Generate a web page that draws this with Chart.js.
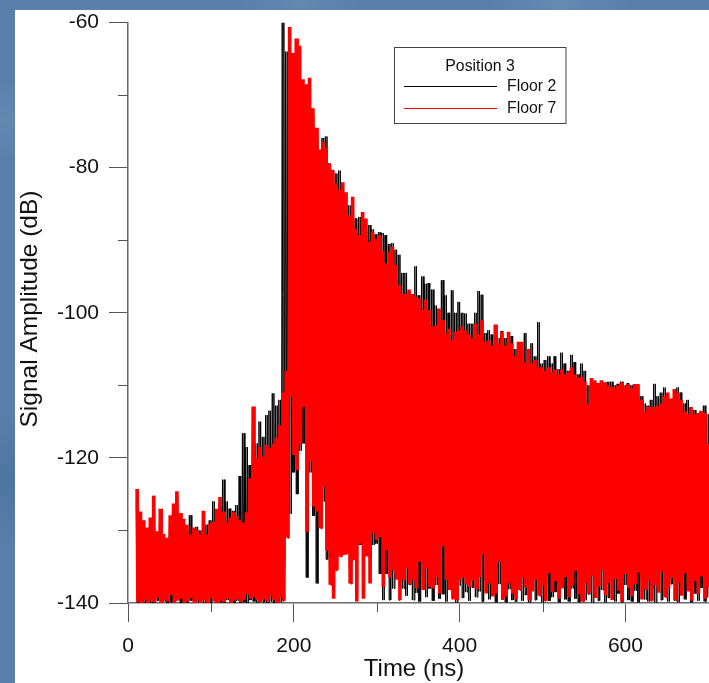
<!DOCTYPE html>
<html>
<head>
<meta charset="utf-8">
<style>
html,body{margin:0;padding:0;width:709px;height:683px;overflow:hidden;background:#5a7fa9;}
body{background-image:radial-gradient(circle at 6px 120px,#6488b0 0,transparent 40px),radial-gradient(circle at 300px 4px,#6488b0 0,transparent 60px),radial-gradient(circle at 8px 480px,#4f769f 0,transparent 70px),radial-gradient(circle at 560px 5px,#668ab2 0,transparent 70px);}
#panel{position:absolute;left:15px;top:10px;right:0;bottom:0;background:#fff;}
canvas{position:absolute;left:0;top:0;}
</style>
<script src="https://cdn.jsdelivr.net/npm/chart.js@4"></script>
</head>
<body>
<div id="panel"></div>
<canvas id="c" width="709" height="683"></canvas>
<script>
const legendTitle = "Position 3";
const seriesNames = ["Floor 2", "Floor 7"];
const xAxisTitle = "Time (ns)";
const yAxisTitle = "Signal Amplitude (dB)";
const xLabelTicks = [0, 200, 400, 600];
const yLabelTicks = [-60, -80, -100, -120, -140];
const xMinorTicks = [100, 300, 500];
const yMinorTicks = [-70, -90, -110, -130];

// Upper and lower excursions of each trace, one pair per 4 ns from 10 ns.
const floor2Upper = [
-126,-129,-130,-131,-130,-129.5,-130.5,-130,-131,-131.5,
-130,-129,-128,-129,-130,-130,-127.9,-130,-129.5,-130,
-129.5,-129.2,-128.6,-126,-128,-126.5,-123,-126,-127,-127.3,
-126.5,-122.5,-116.6,-118.5,-121,-119,-118,-115,-117.1,-114.1,
-113.5,-111.1,-112.8,-112,-60,-64,-65,-64.7,-66.5,-67,
-69,-72,-71.5,-73,-76,-78,-75.9,-75.7,-79.4,-80.3,
-80.8,-80.4,-82.8,-85.8,-85.2,-85.3,-87,-86.8,-88.2,-88.8,
-87.9,-88.5,-89.2,-88.9,-89,-89.3,-90.5,-90.4,-91.3,-92,
-94.5,-94.5,-97.5,-98,-93.6,-97.6,-95,-96,-95.9,-96.8,
-99,-99.5,-95.5,-97.6,-100,-96.9,-100,-98.5,-100,-100.1,
-101.5,-101.5,-100,-97,-97.5,-102.8,-102.4,-103,-103.2,-103.5,
-102.5,-103.5,-103.5,-103.2,-105,-106.8,-105,-102.8,-105,-104.2,
-106,-101.3,-107,-106.5,-106,-107,-106,-107.8,-105.5,-107,
-108,-105.8,-106.8,-108.5,-107,-108,-110,-110.5,-109.5,-109.7,
-109.5,-109.6,-109.5,-109.5,-110,-109.8,-109.5,-110,-109.7,-110,
-109.9,-110,-111.5,-112.5,-112.8,-112,-109.8,-111.5,-111,-110.3,
-111.5,-112,-111.8,-110.3,-111,-112.5,-112,-113,-113.4,-114.5,
-115,-112.8,-114];
const floor2Lower = [
-140,-139.8,-140,-139.9,-140,-140,-139.7,-140,-139.8,-140,
-139.9,-140,-139.6,-140,-139.9,-140,-139.7,-140,-139.9,-139.6,
-140,-139.8,-140,-139.7,-140,-139.9,-140,-139.6,-139.9,-140,
-139.7,-140,-139.9,-140,-139.6,-139.8,-140,-139.7,-139.9,-140,
-139.8,-140,-139.7,-139.9,-135,-125,-127.7,-122,-125,-119,
-118,-136.5,-122,-128,-137.3,-128,-126,-134,-135,-134,
-131,-130,-132,-133,-135,-130,-132,-132,-134,-131,
-133,-132,-131.8,-136,-139.6,-136,-139.6,-138,-136,-136.5,
-138,-139,-137.5,-139.6,-138.6,-139.8,-136.5,-139.2,-138,-139.7,
-137.5,-139.4,-138.8,-139.8,-136.8,-139.1,-139.9,-137.6,-139.3,-138.5,
-139.7,-137.9,-139.2,-138.4,-139.8,-136.9,-139.5,-138.2,-139.9,-137.4,
-139.4,-139.9,-138.1,-139.6,-139.8,-137.2,-139.7,-138.9,-139.9,-136.8,
-139.6,-138.6,-139.9,-137.3,-139.7,-139.2,-138.5,-139.9,-136.6,-139.5,
-139.8,-138,-139.4,-139.9,-137.7,-139.6,-138.8,-139.9,-136.9,-139.7,
-138.2,-139.9,-139.3,-137.1,-139.8,-138.7,-139.9,-137.5,-139.6,-139.8,
-138.3,-139.9,-136.7,-139.5,-139.8,-138.1,-139.9,-137,-139.6,-138.9,
-139.8,-137.4,-139.7,-139.9,-138.4,-139.5,-136.6,-139.9,-138.7,-139.7,
-137.9,-139.8,-139.2];
const floor7Upper = [
-124.3,-127.4,-128.6,-129.6,-128.2,-125.2,-130.1,-127.0,-130.5,-131.0,
-127.9,-126.3,-124.6,-127.6,-128.4,-129.2,-130.6,-129.6,-129.9,-130.5,
-127.3,-130.6,-129.0,-128.8,-127.0,-125.4,-127.4,-128.9,-128.2,-127.5,
-128.0,-128.6,-128.9,-127.5,-122.8,-112.9,-120.0,-118.5,-119.8,-118.2,
-118.6,-118.0,-117.2,-115.5,-111.0,-108.0,-60.6,-64.2,-62.2,-63.2,
-67.8,-68.5,-67.6,-71.8,-74.5,-77.5,-76.4,-77.2,-79.5,-80.4,
-82.2,-83.0,-82.0,-83.4,-86.6,-84.0,-88.4,-89.3,-86.1,-87.0,
-90.2,-88.8,-89.8,-89.3,-91.4,-93.2,-91.6,-90.9,-93.4,-96.2,
-97.4,-97.4,-96.8,-97.4,-97.8,-98.0,-99.6,-98.2,-99.6,-101.9,
-101.7,-99.4,-101.0,-102.9,-102.2,-103.8,-102.6,-102.4,-101.9,-102.4,
-103.0,-103.5,-101.5,-103.0,-101.0,-104.0,-103.8,-104.5,-101.6,-104.2,
-102.6,-104.5,-102.6,-104.2,-106.0,-104.0,-104.0,-106.8,-105.0,-107.0,
-106.5,-107.5,-107.5,-108.0,-107.5,-108.2,-107.8,-108.5,-107.8,-108.5,
-108.2,-107.5,-108.5,-109.0,-108.8,-109.5,-112.5,-109.0,-109.3,-109.7,
-109.3,-109.6,-110.0,-110.2,-110.3,-110.0,-109.6,-110.2,-109.8,-110.4,
-109.8,-109.8,-112.0,-113.7,-113.0,-113.0,-113.0,-112.8,-112.5,-111.5,
-111.0,-111.8,-110.5,-111.0,-112.0,-113.6,-114.0,-113.0,-114.0,-113.8,
-113.5,-113.8,-118.0];
const floor7Lower = [
-139.8,-140,-139.5,-140,-139.7,-139.9,-139.2,-140,-139.6,-139.8,
-138.9,-140,-139.7,-139.4,-140,-139.8,-139.3,-140,-139.6,-139.9,
-139.5,-140,-139.2,-139.8,-140,-139.6,-139.9,-139.4,-140,-139.7,
-139.5,-139.9,-139.6,-138.8,-139.4,-139.2,-139.6,-139.9,-139.4,-139.7,
-139,-139.5,-140,-139.3,-139.7,-131,-111.6,-119.6,-121.7,-118,
-113,-130.2,-120.5,-126.7,-127.4,-129.7,-124,-132.7,-137.5,-139.4,
-135.5,-133.6,-133.4,-133.2,-137.3,-134.1,-139.8,-131.8,-139.4,-133.6,
-137.3,-130.4,-131.3,-130.9,-137.8,-132.7,-136.4,-135.5,-136.8,-139.6,
-136.8,-135.2,-137.3,-136.8,-138,-134.3,-138.2,-135.2,-137.8,-138,
-136.4,-138.7,-132.2,-136.8,-138.2,-139.4,-139.6,-136.8,-136.4,-137.3,
-137.8,-136.8,-138,-136.4,-133.2,-138.7,-137.3,-139.1,-138.7,-134.3,
-139.6,-139.1,-137.3,-138.7,-139.4,-138.2,-136.6,-137.8,-139.6,-138.4,
-136.8,-139,-137.6,-139.7,-135.9,-138.5,-137,-139.4,-138,-136.4,
-139.2,-137.6,-135.6,-138.8,-139.8,-137.2,-138.6,-136.2,-139.3,-137.7,
-135.4,-138.9,-137.1,-139.6,-136.7,-138.3,-139.8,-136,-137.9,-139.1,
-137.4,-135.8,-139.5,-138.1,-136.9,-139.7,-137.5,-138.6,-135.7,-139.2,
-138,-136.5,-139.6,-137.2,-139,-135.9,-138.4,-139.7,-137,-138.8,
-136.3,-139.4,-137.8];

const startNs = 10, stepNs = 4;
// The trace swings between its readings faster than the picture resolves, so every
// 4 ns reading pair is swung through twice.
function trace(upper, lower) {
  const out = [];
  upper.forEach((u, i) => {
    const t = startNs + i * stepNs;
    out.push({x: t, y: u});
    out.push({x: t + stepNs * 0.25, y: lower[i]});
    out.push({x: t + stepNs * 0.5, y: u});
    out.push({x: t + stepNs * 0.75, y: lower[i]});
  });
  return out;
}

const AXIS = '#6a6a6a', TICK = '#555', FONT = '"Liberation Sans", Arial, sans-serif';

const extras = {
  id: 'extras',
  afterDraw(chart) {
    const {ctx, scales: {x, y}} = chart;
    ctx.save();
    ctx.strokeStyle = TICK; ctx.lineWidth = 1;
    xMinorTicks.forEach(v => { const p = Math.round(x.getPixelForValue(v)) + .5;
      ctx.beginPath(); ctx.moveTo(p, y.bottom); ctx.lineTo(p, y.bottom + 9); ctx.stroke(); });
    yMinorTicks.forEach(v => { const p = Math.round(y.getPixelForValue(v)) + .5;
      ctx.beginPath(); ctx.moveTo(x.left, p); ctx.lineTo(x.left - 10, p); ctx.stroke(); });

    // axis titles
    ctx.fillStyle = '#111'; ctx.textBaseline = 'middle'; ctx.textAlign = 'center';
    ctx.font = '24px ' + FONT;
    ctx.fillText(xAxisTitle, 414, 669);
    ctx.save();
    ctx.translate(30, 309); ctx.rotate(-Math.PI / 2);
    ctx.font = '24.5px ' + FONT;
    ctx.fillText(yAxisTitle, 0, 0);
    ctx.restore();

    // legend box
    const L = 394.5, T = 47.5, W = 171.5, H = 76;
    ctx.fillStyle = '#fff'; ctx.fillRect(L, T, W, H);
    ctx.strokeStyle = '#444'; ctx.lineWidth = 1; ctx.strokeRect(L, T, W, H);
    ctx.font = '15.8px ' + FONT; ctx.fillStyle = '#111'; ctx.textBaseline = 'middle';
    ctx.textAlign = 'center'; ctx.fillText(legendTitle, 480, 67);
    ctx.textAlign = 'left';
    const rows = [86.5, 108.5];
    chart.data.datasets.forEach((d, i) => {
      ctx.strokeStyle = d.borderColor; ctx.lineWidth = 1;
      ctx.beginPath(); ctx.moveTo(404, rows[i]); ctx.lineTo(497, rows[i]); ctx.stroke();
      ctx.fillText(d.label, 507, rows[i] + 0.5);
    });
    ctx.restore();
  }
};

new Chart(document.getElementById('c'), {
  type: 'line',
  plugins: [extras],
  data: {
    datasets: [
      {label: seriesNames[0], data: trace(floor2Upper, floor2Lower), borderColor: '#000000', borderWidth: 1, order: 2},
      {label: seriesNames[1], data: trace(floor7Upper, floor7Lower), borderColor: '#ff0000', borderWidth: 2, order: 1}
    ]
  },
  options: {
    responsive: false,
    animation: false,
    devicePixelRatio: 1,
    layout: {padding: {top: 22, right: 0, left: 0, bottom: 0}},
    elements: {
      line: {tension: 0, borderJoinStyle: 'bevel', borderCapStyle: 'butt'},
      point: {radius: 0}
    },
    plugins: {legend: {display: false}, tooltip: {enabled: false}},
    scales: {
      x: {
        type: 'linear', min: 0, max: 700.8,
        afterFit(s) { s.height = 80; },
        afterBuildTicks(s) { s.ticks = xLabelTicks.map(v => ({value: v})); },
        border: {color: AXIS, width: 1.5},
        grid: {drawOnChartArea: false, drawTicks: true, tickLength: 19, tickColor: TICK, tickWidth: 1},
        ticks: {color: '#111', padding: 12, maxRotation: 0, autoSkip: false, includeBounds: false,
                font: {family: FONT, size: 21}}
      },
      y: {
        type: 'linear', min: -140, max: -60,
        afterFit(s) { s.width = 128; },
        afterBuildTicks(s) { s.ticks = yLabelTicks.map(v => ({value: v})); },
        border: {color: AXIS, width: 1.5},
        grid: {drawOnChartArea: false, drawTicks: true, tickLength: 19, tickColor: TICK, tickWidth: 1},
        ticks: {color: '#111', padding: 10, autoSkip: false, font: {family: FONT, size: 21}}
      }
    }
  }
});
</script>
</body>
</html>
